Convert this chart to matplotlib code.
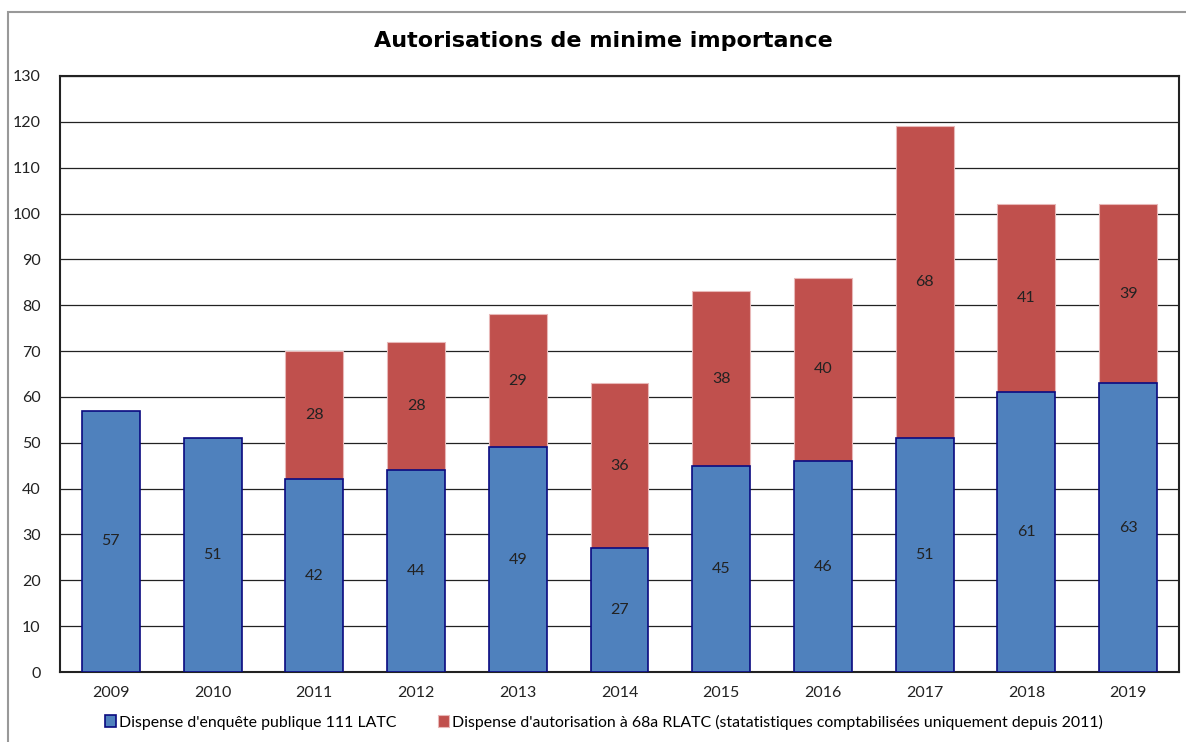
import matplotlib
matplotlib.use("Agg")
import matplotlib.pyplot as plt
from matplotlib.patches import Rectangle
import numpy as np

years = ["2009", "2010", "2011", "2012", "2013", "2014", "2015", "2016", "2017", "2018", "2019"]
enquete = [57, 51, 42, 44, 49, 27, 45, 46, 51, 61, 63]
autorisation = [0, 0, 28, 28, 29, 36, 38, 40, 68, 41, 39]
yticks = list(range(0, 131, 10))
title = "Autorisations de minime importance"
label_blue = "Dispense d'enquête publique 111 LATC"
label_red = "Dispense d'autorisation à 68a RLATC (statatistiques comptabilisées uniquement depuis 2011)"

plt.rcParams['font.family'] = ['Lato', 'DejaVu Sans']

W, H = 1186, 742
fig = plt.figure(figsize=(W / 100, H / 100), dpi=100)
ax = fig.add_axes([60 / W, 1 - 672 / H, (1179 - 60) / W, (672 - 76) / H])

blue = "#4F81BD"
red = "#C0504D"
x = np.arange(len(years))
bw = 0.57
red_vals = [v if v > 0 else np.nan for v in autorisation]
ax.bar(x, red_vals, bw, bottom=enquete, color=red, edgecolor="#E8B8B8", linewidth=0.8, zorder=3)
ax.bar(x, enquete, bw, color=blue, edgecolor="#0A0A80", linewidth=1.2, zorder=3.5)

for i in range(len(years)):
    ax.text(x[i], enquete[i] / 2, str(enquete[i]), ha="center", va="center", fontsize=11.5, color="#222222", zorder=4)
    if autorisation[i] > 0:
        ax.text(x[i], enquete[i] + autorisation[i] / 2, str(autorisation[i]), ha="center", va="center",
                fontsize=11.5, color="#222222", zorder=4)

ax.set_xlim(-0.5, len(years) - 0.5)
ax.set_ylim(0, 130)
ax.set_yticks(yticks)
ax.set_xticks(x)
ax.set_xticklabels(years)
ax.tick_params(axis="both", length=0, labelsize=11.5, colors="#222222")
ax.tick_params(axis="x", pad=10)
ax.tick_params(axis="y", pad=14)
ax.grid(axis="y", color="#222222", linewidth=0.9, zorder=0)
for s in ax.spines.values():
    s.set_color("#222222")
    s.set_linewidth(1.5)

fig.text(603 / W, 1 - 41 / H, title, ha="center", va="center", fontsize=16, fontweight="bold",
         family=["DejaVu Sans"])

handles = [Rectangle((0, 0), 1, 1, facecolor=blue, edgecolor="#0A0A80", linewidth=1.2),
           Rectangle((0, 0), 1, 1, facecolor=red, edgecolor="#E8B8B8", linewidth=0.8)]
fig.legend(handles, [label_blue, label_red], loc="center", bbox_to_anchor=(604 / W, 1 - 722 / H),
           ncol=2, frameon=False, fontsize=11.4, handlelength=0.7, handleheight=0.7,
           handletextpad=0.2, columnspacing=2.6)

border = Rectangle((8 / W, -0.1), 1.2, 1 - 12 / H + 0.1, transform=fig.transFigure, fill=False,
                   edgecolor="#999999", linewidth=1.5)
fig.patches.append(border)

fig.savefig("out.png", dpi=100)
